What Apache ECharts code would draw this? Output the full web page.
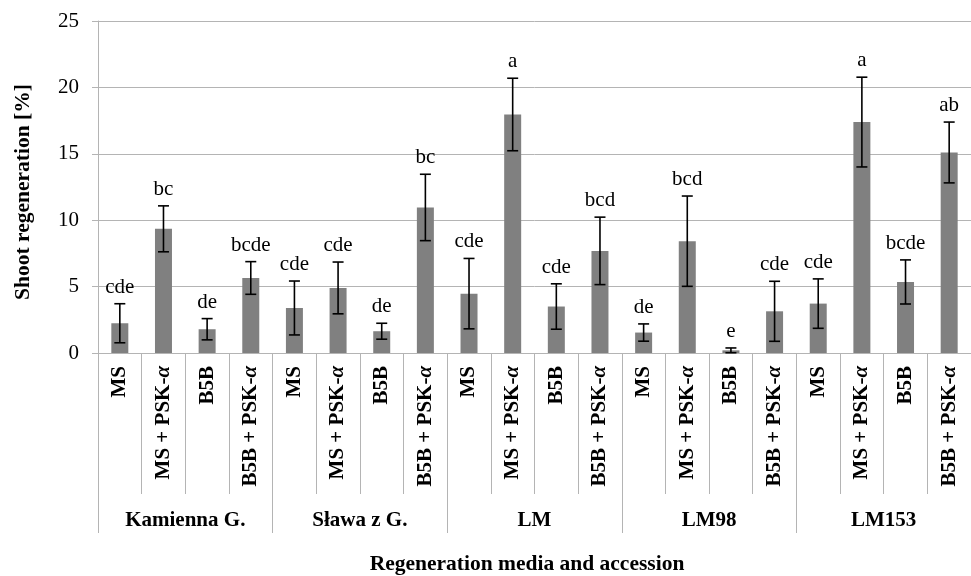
<!DOCTYPE html>
<html><head><meta charset="utf-8">
<script src="https://cdn.jsdelivr.net/npm/echarts@6/dist/echarts.min.js"></script>
<style>html,body{margin:0;padding:0;background:#fff}#c{width:971px;height:576px}</style>
</head><body><div id="c"></div>
<script>
const groups = ['Kamienna G.', 'Sława z G.', 'LM', 'LM98', 'LM153'];
const media = ['MS', 'MS + PSK-α', 'B5B', 'B5B + PSK-α'];
const categories = [];
groups.forEach(function () { media.forEach(function (m) { categories.push(m); }); });
const values = [2.24, 9.35, 1.79, 5.65, 3.39, 4.90, 1.64, 10.96, 4.47, 17.96, 3.50, 7.69, 1.54, 8.42, 0.20, 3.14, 3.72, 17.39, 5.35, 15.10];
const errors = [1.47, 1.73, 0.80, 1.23, 2.03, 1.95, 0.60, 2.50, 2.65, 2.73, 1.71, 2.54, 0.65, 3.40, 0.18, 2.26, 1.86, 3.38, 1.66, 2.29];
const letters = ['cde', 'bc', 'de', 'bcde', 'cde', 'cde', 'de', 'bc', 'cde', 'a', 'cde', 'bcd', 'de', 'bcd', 'e', 'cde', 'cde', 'a', 'bcde', 'ab'];
const yTicks = [0, 5, 10, 15, 20, 25];
const yTitle = 'Shoot regeneration [%]';
const xTitle = 'Regeneration media and accession';

const SERIF = '"Liberation Serif", "Times New Roman", serif';
const GRAY = '#b4b4b4';
const chart = echarts.init(document.getElementById('c'), null, { renderer: 'canvas' });

const errData = values.map(function (v, i) { return [i, v, errors[i], letters[i]]; });

chart.setOption({
  animation: false,
  backgroundColor: '#fff',
  grid: { left: 98, right: 0, top: 21, bottom: 223, containLabel: false },
  xAxis: [
    {
      type: 'category', data: categories, position: 'bottom',
      axisLine: { show: true, lineStyle: { color: GRAY, width: 1 } },
      axisTick: { show: true, interval: 0, length: 141, lineStyle: { color: GRAY, width: 1 } },
      axisLabel: {
        interval: 0, rotate: 90, margin: 13,
        fontFamily: SERIF, fontSize: 21, fontWeight: 'bold', color: '#000',
        formatter: function (s) { return s.replace('α', '{it|α}'); },
        rich: { it: { fontFamily: SERIF, fontSize: 21, fontWeight: 'bold', fontStyle: 'italic', color: '#000' } }
      },
      splitLine: { show: false }
    },
    {
      type: 'category', data: groups, position: 'bottom', offset: 0,
      axisLine: { show: false },
      axisTick: { show: true, interval: 0, length: 180, lineStyle: { color: GRAY, width: 1 } },
      axisLabel: { interval: 0, margin: 157, fontFamily: SERIF, fontSize: 21, fontWeight: 'bold', color: '#000' },
      splitLine: { show: false }
    }
  ],
  yAxis: {
    type: 'value', min: yTicks[0], max: yTicks[yTicks.length - 1], interval: yTicks[1] - yTicks[0],
    axisLine: { show: true, lineStyle: { color: GRAY, width: 1 } },
    axisTick: { show: true, length: 6, lineStyle: { color: GRAY, width: 1 } },
    axisLabel: { margin: 19, fontFamily: SERIF, fontSize: 21, color: '#000' },
    splitLine: { show: true, lineStyle: { color: GRAY, width: 1 } }
  },
  graphic: [
    { type: 'text', x: 23, y: 192, rotation: Math.PI / 2,
      style: { text: yTitle, align: 'center', verticalAlign: 'middle', font: 'bold 21.5px ' + SERIF, fill: '#000' } },
    { type: 'text', x: 527, y: 564,
      style: { text: xTitle, align: 'center', verticalAlign: 'middle', font: 'bold 21.5px ' + SERIF, fill: '#000' } }
  ],
  series: [
    {
      type: 'bar', xAxisIndex: 0, data: values, barWidth: 17,
      itemStyle: { color: '#808080' }, z: 2
    },
    {
      type: 'custom', xAxisIndex: 0, data: errData, z: 5, clip: false,
      encode: { x: 0, y: 1 },
      renderItem: function (params, api) {
        const i = api.value(0), v = api.value(1), e = api.value(2);
        const lab = letters[i];
        const top = api.coord([i, v + e]);
        const bot = api.coord([i, Math.max(0, v - e)]);
        const hw = 5.5;
        const st = { stroke: '#000', lineWidth: 1.6 };
        return {
          type: 'group',
          children: [
            { type: 'line', shape: { x1: top[0], y1: top[1], x2: bot[0], y2: bot[1] }, style: st },
            { type: 'line', shape: { x1: top[0] - hw, y1: top[1], x2: top[0] + hw, y2: top[1] }, style: st },
            { type: 'line', shape: { x1: bot[0] - hw, y1: bot[1], x2: bot[0] + hw, y2: bot[1] }, style: st },
            { type: 'text', x: top[0], y: top[1] - 6,
              style: { text: lab, align: 'center', verticalAlign: 'bottom', font: '21px ' + SERIF, fill: '#000' } }
          ]
        };
      }
    }
  ]
});
</script></body></html>
